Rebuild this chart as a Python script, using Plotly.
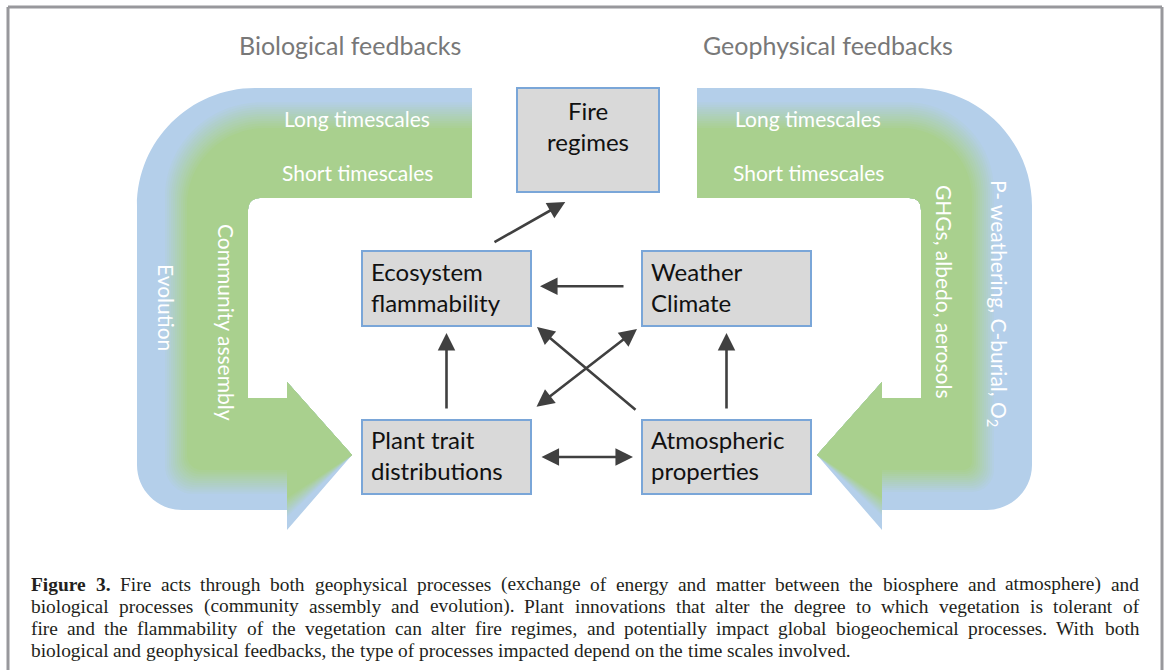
import plotly.graph_objects as go

W, H = 1167, 670

# ---------------- data ----------------
headers = ["Biological feedbacks", "Geophysical feedbacks"]
timescale_labels = ["Long timescales", "Short timescales"]
bio_process_labels = ["Evolution", "Community assembly"]
geo_process_labels = ["P- weathering, C-burial, O<sub>2</sub>", "GHGs, albedo, aerosols"]
node_names = ["fire", "eco", "weather", "plant", "atmos"]
node_labels = ["Fire<br>regimes", "Ecosystem<br>flammability", "Weather<br>Climate",
               "Plant trait<br>distributions", "Atmospheric<br>properties"]
# (from, to, two-way)
edges = [("eco", "fire", False), ("weather", "eco", False), ("plant", "eco", False),
         ("atmos", "weather", False), ("atmos", "eco", False),
         ("plant", "weather", True), ("plant", "atmos", True)]
caption_bold = "Figure 3."
caption_lines = [
    "Figure 3. Fire acts through both geophysical processes (exchange of energy and matter between the biosphere and atmosphere) and",
    "biological processes (community assembly and evolution). Plant innovations that alter the degree to which vegetation is tolerant of",
    "fire and the flammability of the vegetation can alter fire regimes, and potentially impact global biogeochemical processes. With both",
    "biological and geophysical feedbacks, the type of processes impacted depend on the time scales involved.",
]

# ---------------- layout geometry ----------------
boxes = {"fire": (517, 88, 659, 192), "eco": (362, 251, 531, 326), "weather": (642, 251, 811, 326),
         "plant": (362, 420, 531, 494), "atmos": (642, 420, 811, 494)}
# anchor spec per edge: (box-relative point for start, for end): (fx, fy, dx, dy)
edge_anchor = {
    ("eco", "fire"): ((0.775, 0, 0, -8), (0.34, 1, 0, 10)),
    ("weather", "eco"): ((0, 0.47, -17, 0), (1, 0.47, 9, 0)),
    ("plant", "eco"): ((0.5, 0, 0, -10), (0.5, 1, 0, 7)),
    ("atmos", "weather"): ((0.5, 0, 0, -10), (0.5, 1, 0, 7)),
    ("atmos", "eco"): ((0, 0, -5, -9), (1, 1, 6, 1)),
    ("plant", "weather"): ((1, 0, 4, -12), (0, 1, -5, 3)),
    ("plant", "atmos"): ((1, 0.5, 9, 0), (0, 0.5, -9, 0)),
}

BLUE = (180, 207, 234)
GREEN = (169, 208, 142)
CX = 584.5
XO, YT, YB = 137, 88, 510
XTOP, YTI, XIN, RIN = 472, 198, 248, 12
YST, XHB, YHT, XTIP, YTIP, YHB = 398, 287, 382, 352, 455, 530
R1, R2 = 118, 45
K = 0.5523


def lerp_color(c1, c2, t):
    return "rgb(%d,%d,%d)" % tuple(round(a + (b - a) * t) for a, b in zip(c1, c2))


def arrow_path(dl, dt, db, mirror):
    X = (lambda x: 2 * CX - x) if mirror else (lambda x: x)
    xl = XO + dl
    yt = YT + dt
    yb = YB - db
    yhb = YHB - 0.8 * db
    r1 = max(R1 - 0.8 * max(dl, dt), 14)
    r2 = max(R2 - 0.6 * max(dl, db), 8)
    c = [
        f"M {X(XTOP)},{yt}",
        f"L {X(XTOP)},{YTI}",
        f"L {X(XIN + RIN)},{YTI}",
        f"Q {X(XIN)},{YTI} {X(XIN)},{YTI + RIN}",
        f"L {X(XIN)},{YST}",
        f"L {X(XHB)},{YST}",
        f"L {X(XHB)},{YHT}",
        f"L {X(XTIP)},{YTIP}",
        f"L {X(XHB)},{yhb}",
        f"L {X(XHB)},{yb}",
        f"L {X(xl + r2)},{yb}",
        f"C {X(xl + r2 * (1 - K))},{yb} {X(xl)},{yb - r2 * (1 - K)} {X(xl)},{yb - r2}",
        f"L {X(xl)},{yt + r1}",
        f"C {X(xl)},{yt + r1 * (1 - K)} {X(xl + r1 * (1 - K))},{yt} {X(xl + r1)},{yt}",
        "Z",
    ]
    return " ".join(c)


shapes = []
# frame
for x0, y0, x1, y1 in [(8, 7, 8, H), (8, 7, 1162, 7), (1162, 7, 1162, H)]:
    shapes.append(dict(type="line", x0=x0, y0=y0, x1=x1, y1=y1, xref="x", yref="y",
                       line=dict(color="#98989c", width=3)))

# gradient bent arrows
N = 12
side_params = {False: dict(l=(26, 50), t=(12, 40), b=(14, 40)),
               True: dict(l=(36, 60), t=(12, 40), b=(16, 40))}
for mirror, p in side_params.items():
    shapes.append(dict(type="path", path=arrow_path(0, 0, 0, mirror), xref="x", yref="y",
                       fillcolor=lerp_color(BLUE, GREEN, 0), line=dict(width=0)))
    for i in range(1, N + 1):
        t = i / N
        dl = p["l"][0] + (p["l"][1] - p["l"][0]) * t
        dt = p["t"][0] + (p["t"][1] - p["t"][0]) * t
        db = p["b"][0] + (p["b"][1] - p["b"][0]) * t
        shapes.append(dict(type="path", path=arrow_path(dl, dt, db, mirror), xref="x", yref="y",
                           fillcolor=lerp_color(BLUE, GREEN, t), line=dict(width=0)))

# boxes
for name in node_names:
    x0, y0, x1, y1 = boxes[name]
    shapes.append(dict(type="rect", x0=x0, y0=y0, x1=x1, y1=y1, xref="x", yref="y",
                       fillcolor="#d9d9d9", line=dict(color="#7aa6d8", width=2)))

annotations = []
DIAG = "Lato"
# headers
for txt, x in zip(headers, [349.5, 827.5]):
    annotations.append(dict(x=x, y=45, text=txt, showarrow=False, xanchor="center", yanchor="middle",
                            font=dict(family=DIAG, size=25, color="#787878")))
# timescales
for cx_ in [357, 808]:
    for txt, y in zip(timescale_labels, [118, 172]):
        annotations.append(dict(x=cx_, y=y, text=txt, showarrow=False, xanchor="center", yanchor="middle",
                                font=dict(family=DIAG, size=21, color="white")))
# rotated process labels
for txt, x, y in zip(bio_process_labels, [167, 227], [307, 322]):
    annotations.append(dict(x=x, y=y, text=txt, showarrow=False, textangle=90, xanchor="center",
                            yanchor="middle", font=dict(family=DIAG, size=21, color="white")))
for txt, x, y in zip(geo_process_labels, [998, 945], [303, 292]):
    annotations.append(dict(x=x, y=y, text=txt, showarrow=False, textangle=90, xanchor="center",
                            yanchor="middle", font=dict(family=DIAG, size=21, color="white")))

# node labels
for name, lab in zip(node_names, node_labels):
    x0, y0, x1, y1 = boxes[name]
    if name == "fire":
        annotations.append(dict(x=(x0 + x1) / 2, y=125.5, text=lab, showarrow=False, xanchor="center",
                                yanchor="middle", align="center",
                                font=dict(family=DIAG, size=24, color="#111111")))
    else:
        annotations.append(dict(x=x0 + 7, y=(y0 + y1) / 2 - 2, text=lab, showarrow=False, xanchor="left",
                                yanchor="middle", align="left",
                                font=dict(family=DIAG, size=24, color="#111111")))


def anchor(name, spec):
    x0, y0, x1, y1 = boxes[name]
    fx, fy, dx, dy = spec
    return x0 + fx * (x1 - x0) + dx, y0 + fy * (y1 - y0) + dy


for a, b, both in edges:
    sa, sb = edge_anchor[(a, b)]
    xs, ys = anchor(a, sa)
    xe, ye = anchor(b, sb)
    ann = dict(x=xe, y=ye, ax=xs, ay=ys, xref="x", yref="y", axref="x", ayref="y", text="",
               showarrow=True, arrowhead=2, arrowsize=1.35, arrowwidth=2.6, arrowcolor="#404040")
    if both:
        ann.update(arrowside="end+start", startarrowhead=2, startarrowsize=1.35)
    annotations.append(ann)

# ---------------- caption (justified, word by word) ----------------
TIMES = dict(zip("abcdefghijklmnopqrstuvwxyz",
                 [444, 500, 444, 500, 444, 333, 500, 500, 278, 278, 500, 278, 778,
                  500, 500, 500, 500, 333, 389, 278, 500, 500, 722, 500, 500, 444]))
TIMES.update({"F": 556, "P": 556, "W": 944, " ": 250, ".": 250, ",": 250, "(": 333, ")": 333,
              "3": 500, "-": 333})
TIMES_B = dict(TIMES)
TIMES_B.update({"F": 611, "u": 556, "r": 444})


def em_width(s, bold=False):
    tab = TIMES_B if bold else TIMES
    return sum(tab.get(ch, 500) for ch in s) / 1000.0


CAP_L, CAP_R, LAST_R = 31, 1139, 850
last_words = caption_lines[-1].split(" ")
fs = (LAST_R - CAP_L) / (sum(em_width(w) for w in last_words) + em_width(" ") * (len(last_words) - 1))
fs = round(fs, 1)
bold_words = caption_bold.split(" ")
for li, line in enumerate(caption_lines):
    words = line.split(" ")
    isbold = [li == 0 and wi < len(bold_words) for wi in range(len(words))]
    widths = [em_width(w, b) * fs for w, b in zip(words, isbold)]
    if li < len(caption_lines) - 1:
        gap = (CAP_R - CAP_L - sum(widths)) / (len(words) - 1)
    else:
        gap = em_width(" ") * fs
    x = CAP_L
    y = 584 + li * 22.3
    for w, wd, b in zip(words, widths, isbold):
        annotations.append(dict(x=x - 2, y=y, text=f"<b>{w}</b>" if b else w, showarrow=False,
                                xanchor="left", yanchor="middle",
                                font=dict(family="Liberation Serif", size=fs, color="#231f20")))
        x += wd + gap

fig = go.Figure()
fig.update_layout(
    width=W, height=H, margin=dict(l=0, r=0, t=0, b=0),
    paper_bgcolor="white", plot_bgcolor="white",
    xaxis=dict(range=[0, W], visible=False, fixedrange=True),
    yaxis=dict(range=[H, 0], visible=False, fixedrange=True),
    shapes=shapes, annotations=annotations, showlegend=False,
)
fig.write_html("out.html", config={"displayModeBar": False},
               post_script="document.body.style.margin='0';document.body.style.overflow='hidden';")
